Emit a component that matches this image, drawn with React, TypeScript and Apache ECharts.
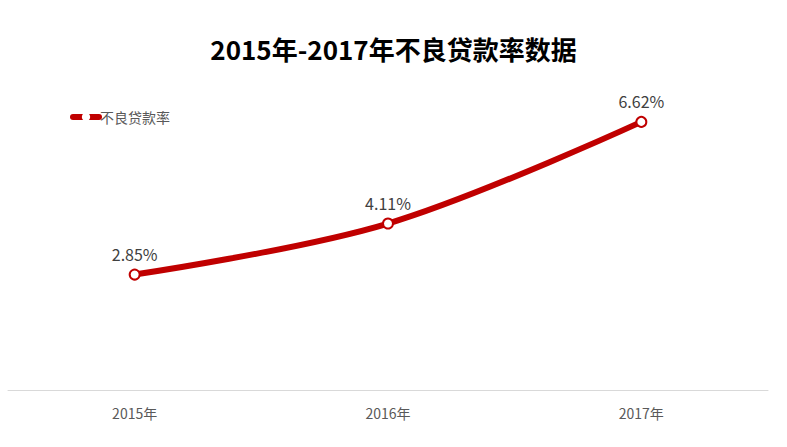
import { useEffect, useRef } from "react";
import * as echarts from "echarts";

const years = ["2015年", "2016年", "2017年"];
const nplRate = [2.85, 4.11, 6.62];
const seriesName = "不良贷款率";
const titleText = "2015年-2017年不良贷款率数据";

const FONT = '"Noto Sans CJK SC", "Noto Sans", sans-serif';
const RED = "#c00000";

export default function App() {
  const ref = useRef<HTMLDivElement | null>(null);

  useEffect(() => {
    document.body.style.margin = "0";
    if (!ref.current) return;
    const chart = echarts.init(ref.current, undefined, { renderer: "svg" });

    chart.setOption({
      animation: false,
      backgroundColor: "#fff",
      textStyle: { fontFamily: FONT },
      title: {
        text: titleText,
        left: "center",
        top: 30,
        textStyle: { fontSize: 26, fontWeight: "bold", color: "#000", fontFamily: FONT }
      },
      legend: {
        left: 70,
        top: 110,
        padding: 0,
        itemWidth: 26,
        itemHeight: 8,
        itemStyle: { color: "#fff", borderColor: RED, borderWidth: 1.5 },
        lineStyle: { color: RED, width: 6, cap: "round" },
        textStyle: { fontSize: 14, color: "#595959", fontFamily: FONT, padding: [0, 0, 0, -4] },
        data: [seriesName]
      },
      grid: { left: 8, right: 19, top: 66, bottom: 57 },
      xAxis: {
        type: "category",
        data: years,
        boundaryGap: true,
        axisLine: { lineStyle: { color: "#d9d9d9", width: 1 } },
        axisTick: { show: false },
        axisLabel: { fontSize: 14, color: "#595959", margin: 16, fontFamily: FONT }
      },
      yAxis: {
        type: "value",
        min: 0,
        max: 8,
        show: false,
        splitLine: { show: false }
      },
      series: [
        {
          name: seriesName,
          type: "line",
          data: nplRate,
          smooth: 0.35,
          symbol: "emptyCircle",
          symbolSize: 10,
          lineStyle: { color: RED, width: 6 },
          itemStyle: { color: RED, borderColor: RED, borderWidth: 1.2 },
          label: {
            show: true,
            position: "top",
            distance: 7,
            fontSize: 16,
            color: "#404040",
            fontFamily: FONT,
            formatter: (p: any) => p.value.toFixed(2) + "%"
          }
        }
      ]
    });

    return () => chart.dispose();
  }, []);

  return <div ref={ref} style={{ width: 787, height: 447 }} />;
}
